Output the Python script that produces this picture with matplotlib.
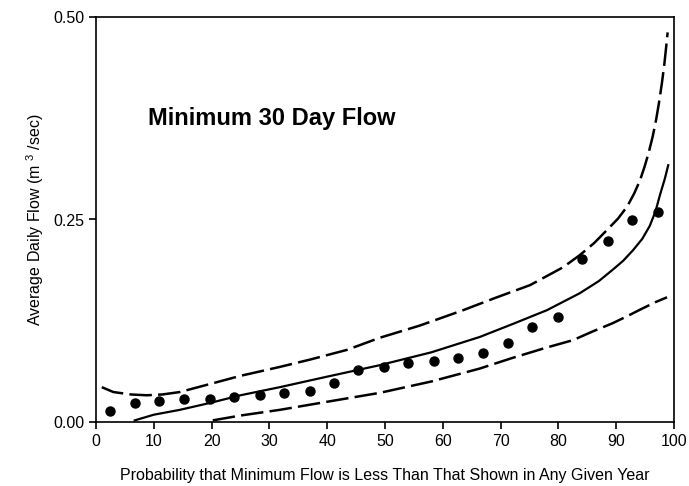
import matplotlib
matplotlib.use("Agg")
import matplotlib.pyplot as plt

plt.rcParams['font.family'] = ['Liberation Sans', 'DejaVu Sans']
plt.rcParams['mathtext.fontset'] = 'custom'
plt.rcParams['mathtext.rm'] = 'Liberation Sans'

# observed minimum 30 day flows (plotting position %, m3/sec)
obs_x = [2.4, 6.7, 10.9, 15.2, 19.7, 23.9, 28.4, 32.5, 37.0, 41.2, 45.3, 49.8,
         54.0, 58.5, 62.6, 67.0, 71.3, 75.4, 79.9, 84.1, 88.6, 92.7, 97.2]
obs_y = [0.014, 0.024, 0.026, 0.028, 0.028, 0.031, 0.033, 0.036, 0.038, 0.048, 0.064, 0.068,
         0.073, 0.075, 0.079, 0.085, 0.098, 0.117, 0.130, 0.201, 0.223, 0.249, 0.259]

# fitted distribution
fit_x = [6.7, 10, 14.5, 20, 25, 31.8, 40, 49, 58, 66.4, 72.1, 78, 83.7, 87, 89.4,
         91.2, 92.9, 94.5, 95.8, 96.8, 97.6, 98.4, 99]
fit_y = [0.002, 0.009, 0.015, 0.024, 0.033, 0.043, 0.056, 0.070, 0.086, 0.105, 0.121, 0.138, 0.159, 0.174, 0.188,
         0.199, 0.212, 0.226, 0.242, 0.260, 0.281, 0.300, 0.317]

# upper confidence limit
up_x = [1, 3, 6, 8.8, 11.5, 14.5, 20.3, 25, 31.8, 37, 43.4, 49.1, 56, 63.5, 69, 75.1, 80.8, 83.7,
        86.2, 88.4, 90.3, 91.9, 93.1, 94.1, 94.9, 95.6, 96.3, 96.9, 97.4, 97.9, 98.3, 98.6, 98.9]
up_y = [0.043, 0.037, 0.034, 0.033, 0.034, 0.037, 0.048, 0.057, 0.068, 0.077, 0.089, 0.104, 0.119, 0.138, 0.153, 0.169, 0.191, 0.206,
        0.221, 0.237, 0.251, 0.266, 0.282, 0.298, 0.315, 0.332, 0.352, 0.373, 0.394, 0.418, 0.440, 0.460, 0.481]

# lower confidence limit
lo_x = [20.2, 25, 31.8, 40, 49.1, 58, 66.4, 72, 78, 82.5, 86, 89.4, 92, 94.5, 96.8, 98.8]
lo_y = [0.002, 0.008, 0.015, 0.025, 0.036, 0.050, 0.066, 0.079, 0.092, 0.101, 0.112, 0.122, 0.131, 0.140, 0.148, 0.154]

fig = plt.figure(figsize=(6.89, 4.86), dpi=100)
ax = fig.add_axes([96 / 689, 1 - 422 / 486, 578 / 689, 405 / 486])

ax.plot(fit_x, fit_y, color='black', lw=1.6)
ax.plot(up_x, up_y, color='black', lw=1.8, dashes=(9, 2.5))
ax.plot(lo_x, lo_y, color='black', lw=1.8, dashes=(9, 2.5))
ax.plot(obs_x, obs_y, 'o', color='black', ms=6.5, clip_on=False)

ax.set_xlim(0, 100)
ax.set_ylim(0, 0.5)
ax.set_xticks(range(0, 101, 10))
ax.set_yticks([0, 0.25, 0.5])
ax.set_yticklabels(['0.00', '0.25', '0.50'])
ax.tick_params(direction='out', length=5, width=1.2, labelsize=11.5)
for s in ax.spines.values():
    s.set_linewidth(1.2)

ax.set_xlabel('Probability that Minimum Flow is Less Than That Shown in Any Given Year', fontsize=11.5, labelpad=14)
ax.set_ylabel('Average Daily Flow (m $^{3}$ /sec)', fontsize=11.5, labelpad=5)
ax.text(9, 0.375, 'Minimum 30 Day Flow', fontsize=17, fontweight='bold', va='center')

fig.savefig('out.png', dpi=100)
